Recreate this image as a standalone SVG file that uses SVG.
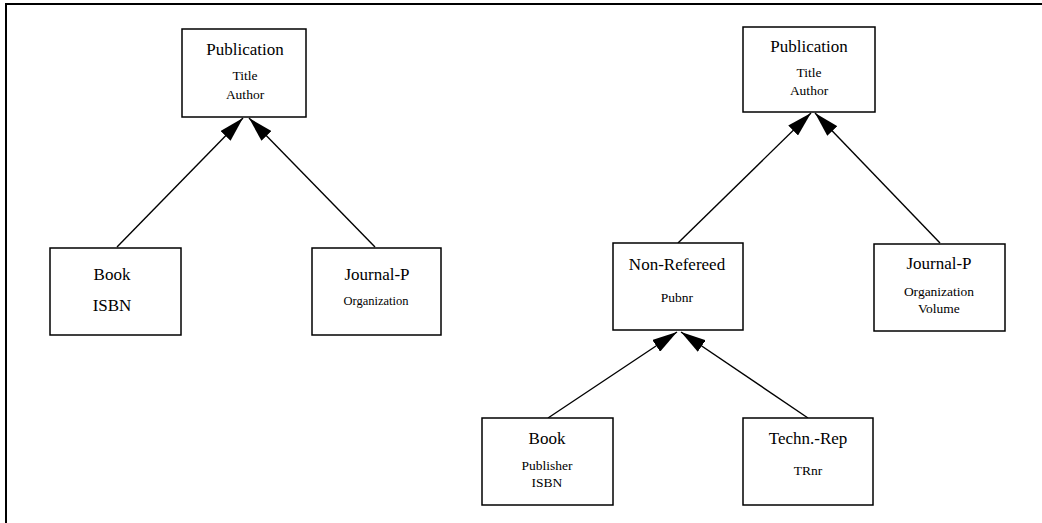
<svg xmlns="http://www.w3.org/2000/svg" width="1042" height="523" viewBox="0 0 1042 523">
  <style>
    .box { fill: #fff; stroke: #000; stroke-width: 1.5; }
    .frame { fill: none; stroke: #000; stroke-width: 2; }
    .edge { stroke: #000; stroke-width: 1.4; fill: none; marker-end: url(#head); }
    .name { font-size: 17px; }
    .attr { font-size: 13.5px; }
    .small { font-size: 12.5px; }
  </style>
  <defs>
    <marker id="head" viewBox="0 0 25 14" refX="25" refY="7" markerWidth="25" markerHeight="14" markerUnits="userSpaceOnUse" orient="auto">
      <path d="M0,0 L25,7 L0,14 z" fill="#000"/>
    </marker>
  </defs>

  <rect class="frame" x="6" y="4" width="1040" height="525"/>

  <!-- generalisation links (child to parent) -->
  <g id="connectors">
    <line class="edge" x1="117" y1="247" x2="243" y2="118"/>
    <line class="edge" x1="375" y1="247" x2="249" y2="118"/>
    <line class="edge" x1="678" y1="243" x2="811" y2="113"/>
    <line class="edge" x1="940" y1="243" x2="815" y2="113"/>
    <line class="edge" x1="548" y1="418" x2="677" y2="332"/>
    <line class="edge" x1="808" y1="418" x2="681" y2="332"/>
  </g>

  <g font-family="'Liberation Serif', 'DejaVu Serif', serif" text-anchor="middle" fill="#000">
    <!-- left hierarchy -->
    <g id="pub-left">
      <rect class="box" x="182" y="29" width="124" height="88"/>
      <text class="name" x="245" y="55">Publication</text>
      <text class="attr" x="245" y="80">Title</text>
      <text class="attr" x="245" y="99">Author</text>
    </g>
    <g id="book-left">
      <rect class="box" x="50" y="248" width="131" height="87"/>
      <text class="name" x="112" y="280">Book</text>
      <text class="name" x="112" y="311">ISBN</text>
    </g>
    <g id="journal-left">
      <rect class="box" x="312" y="248" width="129" height="87"/>
      <text class="name" x="377" y="280">Journal-P</text>
      <text class="small" x="376" y="305">Organization</text>
    </g>

    <!-- right hierarchy -->
    <g id="pub-right">
      <rect class="box" x="743" y="27" width="132" height="85"/>
      <text class="name" x="809" y="52">Publication</text>
      <text class="attr" x="809" y="77">Title</text>
      <text class="attr" x="809" y="95">Author</text>
    </g>
    <g id="non-refereed">
      <rect class="box" x="613" y="243" width="130" height="87"/>
      <text class="name" x="677" y="270">Non-Refereed</text>
      <text class="attr" x="677" y="302">Pubnr</text>
    </g>
    <g id="journal-right">
      <rect class="box" x="874" y="244" width="131" height="87"/>
      <text class="name" x="939" y="269">Journal-P</text>
      <text class="attr" x="939" y="296">Organization</text>
      <text class="attr" x="939" y="313">Volume</text>
    </g>
    <g id="book-right">
      <rect class="box" x="482" y="418" width="131" height="87"/>
      <text class="name" x="547" y="444">Book</text>
      <text class="attr" x="547" y="470">Publisher</text>
      <text class="attr" x="547" y="487">ISBN</text>
    </g>
    <g id="techn-rep">
      <rect class="box" x="743" y="418" width="130" height="87"/>
      <text class="name" x="808" y="444">Techn.-Rep</text>
      <text class="attr" x="808" y="475">TRnr</text>
    </g>
  </g>
</svg>
